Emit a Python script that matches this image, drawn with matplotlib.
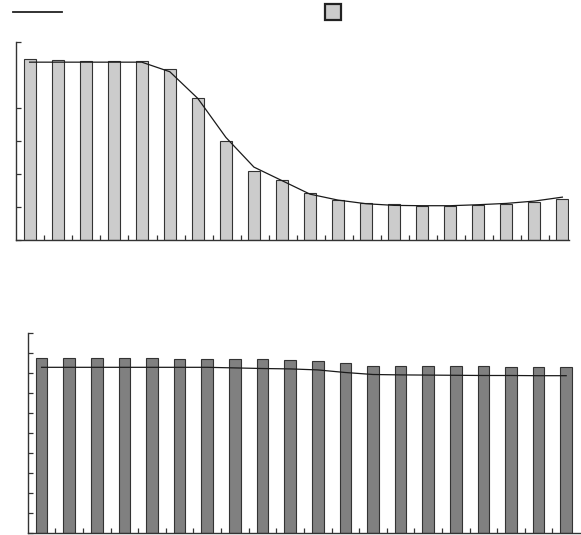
import numpy as np
import matplotlib
matplotlib.use("Agg")
import matplotlib.pyplot as plt
from matplotlib.lines import Line2D
from matplotlib.patches import Rectangle

# values (no labels in the original)
top_bars = [5.48, 5.45, 5.43, 5.43, 5.40, 5.18, 4.30, 3.00, 2.09, 1.81,
            1.41, 1.19, 1.12, 1.07, 1.03, 1.03, 1.06, 1.09, 1.14, 1.24]
top_line = [5.38, 5.38, 5.38, 5.38, 5.38, 5.09, 4.28, 3.10, 2.20, 1.79,
            1.38, 1.20, 1.09, 1.04, 1.03, 1.03, 1.06, 1.10, 1.17, 1.29]
bottom_bars = [8.76, 8.76, 8.76, 8.76, 8.76, 8.71, 8.71, 8.70, 8.68, 8.63,
               8.58, 8.50, 8.36, 8.36, 8.36, 8.33, 8.33, 8.28, 8.28, 8.28]
bottom_line = [8.28, 8.28, 8.28, 8.28, 8.28, 8.28, 8.28, 8.25, 8.22, 8.20,
               8.15, 8.02, 7.92, 7.90, 7.89, 7.88, 7.87, 7.87, 7.86, 7.86]
top_yticks = [0, 1, 2, 3, 4, 6]
bottom_yticks = list(range(11))

W, H = 581, 535
fig = plt.figure(figsize=(W / 100, H / 100), dpi=100)

def px_axes(x0, x1, ytop, ybot):
    return fig.add_axes([x0 / W, (H - ybot) / H, (x1 - x0) / W, (ybot - ytop) / H])

def style(ax):
    for s in ["top", "right"]:
        ax.spines[s].set_visible(False)
    for s in ["left", "bottom"]:
        ax.spines[s].set_color("#333333")
        ax.spines[s].set_linewidth(1.0)
    ax.tick_params(direction="in", length=3.3, width=0.9, color="#333333",
                   labelleft=False, labelbottom=False)

n = len(top_bars)
x = np.arange(n)

ax1 = px_axes(16.3, 569, 41.7, 239.7)
ax1.bar(x - 0.026, top_bars, width=0.43, color="#cccccc", edgecolor="#333333", linewidth=0.8)
ax1.plot(x - 0.026, top_line, color="#1a1a1a", linewidth=0.9)
ax1.set_xlim(-0.5, 19.21)
ax1.set_ylim(0, 6)
ax1.set_yticks(top_yticks)
ax1.set_xticks(np.arange(n - 1) + 0.5)
style(ax1)

ax2 = px_axes(27.8, 580, 333, 532.5)
ax2.bar(x, bottom_bars, width=0.42, color="#808080", edgecolor="#333333", linewidth=0.8)
ax2.plot(x, bottom_line, color="#1a1a1a", linewidth=0.9)
ax2.set_xlim(-0.5, 19.5)
ax2.set_ylim(0, 10)
ax2.set_yticks(bottom_yticks)
ax2.set_xticks(np.arange(n - 1) + 0.5)
style(ax2)

# legend keys (no text in the original)
fig.add_artist(Line2D([13.3 / W, 62.3 / W], [(H - 12.3) / H, (H - 12.3) / H],
                      color="#222222", linewidth=1.3, transform=fig.transFigure))
fig.add_artist(Rectangle((325 / W, (H - 19.5) / H), 16 / W, 15 / H,
                         facecolor="#cccccc", edgecolor="#222222", linewidth=1.6,
                         transform=fig.transFigure))

fig.savefig("out.png", dpi=100)
